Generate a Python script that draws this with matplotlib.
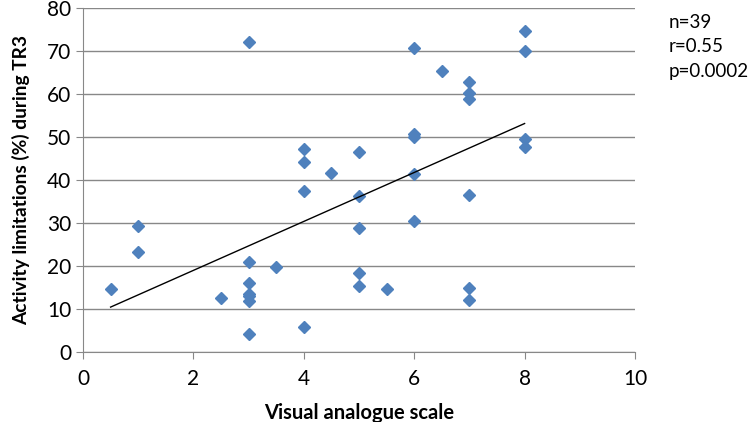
import matplotlib.pyplot as plt
import numpy as np

plt.rcParams['font.family'] = ['Lato', 'DejaVu Sans']

# VAS score vs activity limitations (%)
vas = [0.5, 1, 1, 2.5,
       3, 3, 3, 3, 3, 3, 3,
       3.5,
       4, 4, 4, 4,
       4.5,
       5, 5, 5, 5, 5,
       5.5,
       6, 6, 6, 6, 6,
       6.5,
       7, 7, 7, 7, 7, 7,
       8, 8, 8, 8]
activity = [14.7, 29.3, 23.2, 12.6,
            72.1, 20.9, 16.0, 13.6, 13.0, 11.9, 4.3,
            19.7,
            47.1, 44.3, 37.4, 5.8,
            41.7,
            46.4, 36.3, 28.8, 18.3, 15.3,
            14.7,
            70.8, 50.6, 50.0, 41.5, 30.4,
            65.3,
            62.8, 60.2, 58.8, 36.6, 15.0, 12.1,
            74.7, 70.0, 49.6, 47.7]
stats_text = ['n=39', 'r=0.55', 'p=0.0002']

fig = plt.figure(figsize=(7.56, 4.22), dpi=100)
ax = fig.add_axes([83/756, 70/422, 552/756, 344/422])

grid_col = '#888888'
ax.set_xlim(0, 10)
ax.set_ylim(0, 80)
ax.set_xticks(range(0, 11, 2))
ax.set_yticks(range(0, 81, 10))
ax.yaxis.grid(True, color=grid_col, lw=1)
ax.set_axisbelow(True)
for s in ['top', 'right']:
    ax.spines[s].set_visible(False)
for s in ['left', 'bottom']:
    ax.spines[s].set_color(grid_col)
ax.tick_params(colors=grid_col, labelcolor='black', labelsize=15, length=5)
ax.tick_params(axis='x', pad=7)

ax.plot(vas, activity, 'D', color='#4F81BD', ms=6.5, zorder=3)

# linear trend line
k, b = np.polyfit(vas, activity, 1)
xs = np.array([min(vas), max(vas)])
ax.plot(xs, k*xs + b, color='black', lw=1, zorder=4)

ax.set_xlabel('Visual analogue scale', fontsize=14.5, fontweight='bold', labelpad=10)
ax.set_ylabel('Activity limitations (%) during TR3', fontsize=13.8, fontweight='bold', labelpad=12)

for i, t in enumerate(stats_text):
    fig.text(669/756, 1 - (22 + 25*i)/422, t, fontsize=13.5, va='center', ha='left')

fig.savefig('out.png', dpi=100)
